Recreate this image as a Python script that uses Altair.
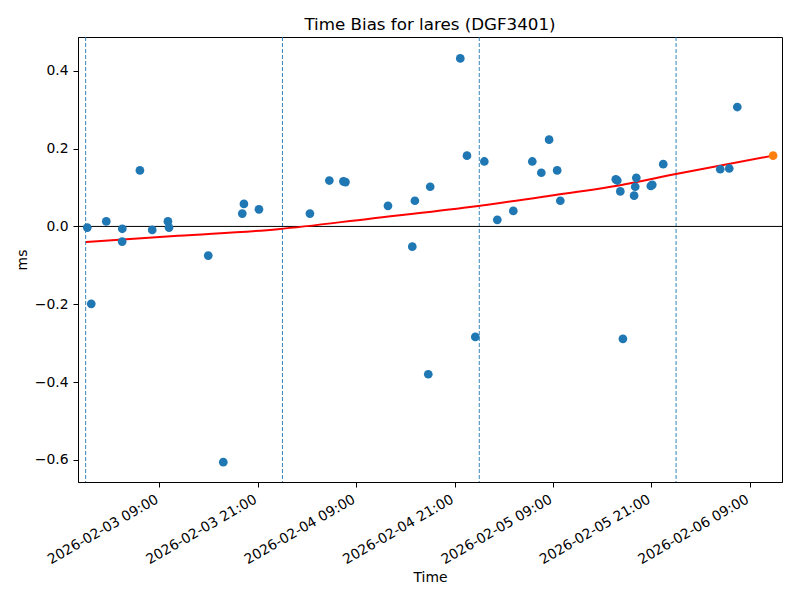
import altair as alt
import pandas as pd

# ---- data ----
obs_times = [
    "2026-02-03T00:12", "2026-02-03T00:41", "2026-02-03T02:31", "2026-02-03T04:28",
    "2026-02-03T04:27", "2026-02-03T06:37", "2026-02-03T08:07", "2026-02-03T10:02",
    "2026-02-03T10:10", "2026-02-03T14:57", "2026-02-03T16:47", "2026-02-03T19:06",
    "2026-02-03T19:18", "2026-02-03T21:08", "2026-02-04T03:21", "2026-02-04T05:43",
    "2026-02-04T07:26", "2026-02-04T07:41", "2026-02-04T12:52", "2026-02-04T15:50",
    "2026-02-04T16:09", "2026-02-04T17:47", "2026-02-04T18:01", "2026-02-04T21:41",
    "2026-02-04T22:30", "2026-02-04T23:31", "2026-02-05T00:37", "2026-02-05T02:12",
    "2026-02-05T04:09", "2026-02-05T06:28", "2026-02-05T07:34", "2026-02-05T08:31",
    "2026-02-05T09:30", "2026-02-05T09:53", "2026-02-05T16:39", "2026-02-05T16:50",
    "2026-02-05T17:12", "2026-02-05T17:31", "2026-02-05T18:53", "2026-02-05T19:01",
    "2026-02-05T19:09", "2026-02-05T20:55", "2026-02-05T21:06", "2026-02-05T22:26",
    "2026-02-06T05:23", "2026-02-06T06:29", "2026-02-06T07:28",
]
obs_values = [
    -0.003, -0.199, 0.013, -0.006,
    -0.039, 0.144, -0.009, 0.013,
    -0.003, -0.075, -0.606, 0.033,
    0.058, 0.044, 0.033, 0.118,
    0.116, 0.114, 0.053, -0.052,
    0.066, -0.380, 0.102, 0.432,
    0.182, -0.284, 0.167, 0.017,
    0.040, 0.167, 0.138, 0.223,
    0.144, 0.066, 0.121, 0.118,
    0.090, -0.289, 0.079, 0.102,
    0.125, 0.104, 0.107, 0.160,
    0.147, 0.149, 0.307,
]
latest_time = ["2026-02-06T11:50"]
latest_value = [0.182]

fit_times = [
    "2026-02-03T00:02", "2026-02-03T11:15", "2026-02-03T23:27", "2026-02-04T10:40",
    "2026-02-04T22:52", "2026-02-05T08:37", "2026-02-05T17:10", "2026-02-05T23:59",
    "2026-02-06T11:49",
]
fit_values = [-0.040, -0.024, -0.007, 0.020, 0.050, 0.079, 0.106, 0.135, 0.182]

midnights = ["2026-02-03T00:00", "2026-02-04T00:00", "2026-02-05T00:00", "2026-02-06T00:00"]

x_tick_times = [
    "2026-02-03T09:00", "2026-02-03T21:00", "2026-02-04T09:00", "2026-02-04T21:00",
    "2026-02-05T09:00", "2026-02-05T21:00", "2026-02-06T09:00",
]
y_ticks = [-0.6, -0.4, -0.2, 0.0, 0.2, 0.4]
x_domain = ["2026-02-02T23:04", "2026-02-06T12:55"]
y_domain = [-0.657, 0.487]

FONT = "DejaVu Sans"
W, H = 704, 445


def dt(s):
    t = pd.Timestamp(s)
    return alt.DateTime(year=t.year, month=t.month, date=t.day,
                        hours=t.hour, minutes=t.minute)


def X(field):
    return alt.X(
        f"{field}:T",
        scale=alt.Scale(domain=[dt(s) for s in x_domain], nice=False),
        axis=alt.Axis(
            values=[dt(s) for s in x_tick_times],
            format="%Y-%m-%d %H:%M",
            labelAngle=330,
            labelAlign="right",
            labelBaseline="top",
            labelOffset=-6,
            labelOverlap=False,
            labelFlush=False,
            title="Time",
            titleX=W / 2,
            titleY=95,
            titleBaseline="middle",
        ),
    )


def Y(field):
    return alt.Y(
        f"{field}:Q",
        scale=alt.Scale(domain=y_domain, nice=False, zero=False),
        axis=alt.Axis(
            values=y_ticks,
            format=".1f",
            title="ms",
            titleX=-56,
            titleY=H / 2,
            titleAngle=270,
            titleAlign="center",
            titleBaseline="middle",
        ),
    )


obs_df = pd.DataFrame({"t": obs_times, "v": obs_values})
latest_df = pd.DataFrame({"t": latest_time, "v": latest_value})
fit_df = pd.DataFrame({"t": fit_times, "v": fit_values})
mid_df = pd.DataFrame({"t": midnights})
zero_df = pd.DataFrame({"v": [0.0]})

vlines = alt.Chart(mid_df).mark_rule(
    color="#1f77b4", strokeWidth=0.9, strokeDash=[4, 2]
).encode(x=X("t"))

zero = alt.Chart(zero_df).mark_rule(color="black", strokeWidth=1).encode(y=Y("v"))

fit = alt.Chart(fit_df).mark_line(
    color="red", strokeWidth=2, interpolate="monotone"
).encode(x=X("t"), y=Y("v"))

pts = alt.Chart(obs_df).mark_circle(
    color="#1f77b4", opacity=1, size=76
).encode(x=X("t"), y=Y("v"))

last = alt.Chart(latest_df).mark_circle(
    color="#ff7f0e", opacity=1, size=76
).encode(x=X("t"), y=Y("v"))

chart = (
    alt.layer(vlines, zero, fit, pts, last)
    .properties(
        width=W,
        height=H,
        title=alt.TitleParams(
            "Time Bias for lares (DGF3401)",
            font=FONT,
            fontSize=16.7,
            fontWeight="normal",
            color="black",
            anchor="middle",
            frame="group",
            baseline="bottom",
            offset=6,
            dy=20,
        ),
        autosize=alt.AutoSizeParams(type="none"),
        padding={"left": 70, "top": 29, "right": 10, "bottom": 110},
    )
    .configure_view(stroke="black", strokeWidth=1)
    .configure_axis(
        grid=False,
        domainColor="black",
        domainWidth=1,
        tickColor="black",
        tickWidth=1,
        tickSize=5,
        labelPadding=5,
        labelColor="black",
        labelFont=FONT,
        labelFontSize=13.9,
        titleColor="black",
        titleFont=FONT,
        titleFontSize=13.9,
        titleFontWeight="normal",
    )
)

chart.save("out.html", embed_options={"renderer": "svg", "actions": False})
